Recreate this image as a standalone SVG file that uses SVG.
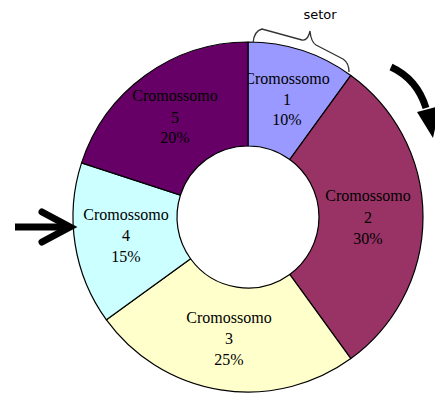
<svg xmlns="http://www.w3.org/2000/svg" width="435" height="393" viewBox="0 0 435 393">
  <style>
    .sector { stroke: #000; stroke-width: 1.2; stroke-linejoin: round; }
    .lbl { font-family: "Liberation Serif", "Times New Roman", serif; font-size: 16px; fill: #000; text-anchor: middle; }
    .note { font-family: "DejaVu Sans", "Liberation Sans", sans-serif; font-size: 13px; fill: #000; text-anchor: middle; }
    .arrow { fill: none; stroke: #000; stroke-width: 7; }
  </style>
  <rect width="435" height="393" fill="#fff"/>

  <!-- donut ring, centre (248,217), outer r 175, inner r 71 -->
  <g id="sector1">
    <path class="sector" fill="#9999FF" d="M 248,42 A 175 175 0 0 1 350.86,75.42 L 289.73,159.56 A 71 71 0 0 0 248,146 Z"/>
    <text class="lbl" x="287" y="84">Cromossomo</text>
    <text class="lbl" x="287" y="105">1</text>
    <text class="lbl" x="287" y="125">10%</text>
  </g>
  <g id="sector2">
    <path class="sector" fill="#993366" d="M 350.86,75.42 A 175 175 0 0 1 350.86,358.58 L 289.73,274.44 A 71 71 0 0 0 289.73,159.56 Z"/>
    <text class="lbl" x="368" y="201">Cromossomo</text>
    <text class="lbl" x="368" y="223">2</text>
    <text class="lbl" x="368" y="244">30%</text>
  </g>
  <g id="sector3">
    <path class="sector" fill="#FFFFCC" d="M 350.86,358.58 A 175 175 0 0 1 106.42,319.86 L 190.56,258.73 A 71 71 0 0 0 289.73,274.44 Z"/>
    <text class="lbl" x="229" y="323">Cromossomo</text>
    <text class="lbl" x="229" y="344">3</text>
    <text class="lbl" x="229" y="365">25%</text>
  </g>
  <g id="sector4">
    <path class="sector" fill="#CCFFFF" d="M 106.42,319.86 A 175 175 0 0 1 81.56,162.92 L 180.47,195.06 A 71 71 0 0 0 190.56,258.73 Z"/>
    <text class="lbl" x="126" y="220">Cromossomo</text>
    <text class="lbl" x="126" y="241">4</text>
    <text class="lbl" x="126" y="262">15%</text>
  </g>
  <g id="sector5">
    <path class="sector" fill="#660066" d="M 81.56,162.92 A 175 175 0 0 1 248,42 L 248,146 A 71 71 0 0 0 180.47,195.06 Z"/>
    <text class="lbl" x="175" y="101">Cromossomo</text>
    <text class="lbl" x="175" y="123">5</text>
    <text class="lbl" x="175" y="143">20%</text>
  </g>

  <!-- brace marking one sector -->
  <g id="setor">
    <path d="M 253,43 Q 254,31 262,29 L 302,40 Q 308,41 310,31 Q 311,42 316,45 L 343,59 Q 349,63 349,72" fill="none" stroke="#333" stroke-width="1.3"/>
    <text class="note" x="320" y="19">setor</text>
  </g>

  <g id="connectors">
    <!-- rotation direction -->
    <path class="arrow" d="M 391,67 Q 417,79 426,108"/>
    <polygon points="417,112 440,106 433,138" fill="#000"/>
    <!-- pointer at sector 4 -->
    <path class="arrow" d="M 15,227 L 64,227"/>
    <polyline class="arrow" points="42,212 70,227 42,242" stroke-linejoin="miter" stroke-linecap="round"/>
  </g>
</svg>
